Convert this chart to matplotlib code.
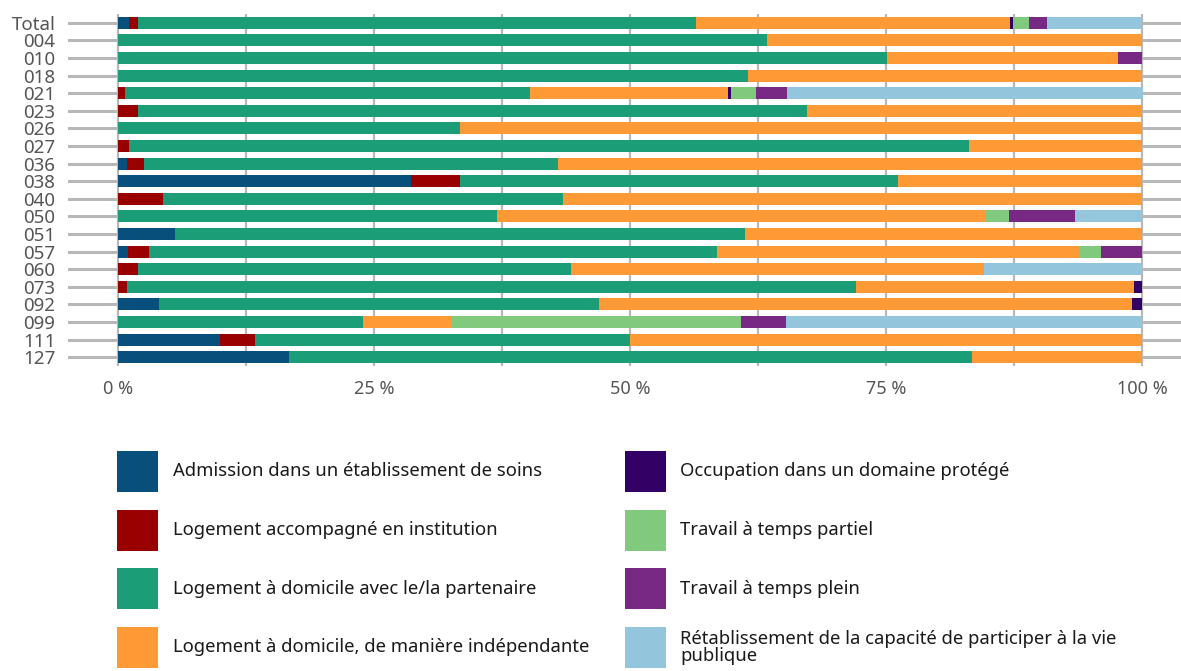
import matplotlib
matplotlib.use("Agg")
import matplotlib.pyplot as plt
from matplotlib.patches import Rectangle
import numpy as np

plt.rcParams['font.family'] = ['Noto Sans', 'DejaVu Sans']

categories = ["Total", "004", "010", "018", "021", "023", "026", "027", "036", "038",
              "040", "050", "051", "057", "060", "073", "092", "099", "111", "127"]

series_names = [
    "Admission dans un établissement de soins",
    "Logement accompagné en institution",
    "Logement à domicile avec le/la partenaire",
    "Logement à domicile, de manière indépendante",
    "Occupation dans un domaine protégé",
    "Travail à temps partiel",
    "Travail à temps plein",
    "Rétablissement de la capacité de participer à la vie\npublique",
]
colors = ["#094f7b", "#990000", "#1b9e77", "#fe9a36", "#330066", "#80c97d", "#772983", "#93c5dd"]

admission   = [1.1, 0, 0, 0, 0, 0, 0, 0, 0.9, 28.6, 0, 0, 5.6, 1.0, 0, 0, 4.0, 0, 10.0, 16.7]
institution = [0.9, 0, 0, 0, 0.65, 2.0, 0, 1.1, 1.6, 4.8, 4.4, 0, 0, 2.0, 1.95, 0.9, 0, 0, 3.4, 0]
partenaire  = [54.4, 63.4, 75.1, 61.5, 39.6, 65.3, 33.4, 82.0, 40.5, 42.8, 39.1, 37.0, 55.6, 55.5, 42.3, 71.2, 43.0, 23.9, 36.6, 66.7]
independant = [30.7, 36.6, 22.6, 38.5, 19.3, 32.7, 66.6, 16.9, 57.0, 23.8, 56.5, 47.8, 38.8, 35.4, 40.35, 27.1, 52.0, 8.7, 50.0, 16.6]
protege     = [0.3, 0, 0, 0, 0.3, 0, 0, 0, 0, 0, 0, 0, 0, 0, 0, 0.8, 1.0, 0, 0, 0]
partiel     = [1.55, 0, 0, 0, 2.5, 0, 0, 0, 0, 0, 0, 2.25, 0, 2.05, 0, 0, 0, 28.25, 0, 0]
plein       = [1.75, 0, 2.3, 0, 3.0, 0, 0, 0, 0, 0, 0, 6.45, 0, 4.05, 0, 0, 0, 4.4, 0, 0]
vie_publique = [9.3, 0, 0, 0, 34.75, 0, 0, 0, 0, 0, 0, 6.5, 0, 0, 15.4, 0, 0, 34.75, 0, 0]

series = [admission, institution, partenaire, independant, protege, partiel, plein, vie_publique]
xticks_major = [0, 25, 50, 75, 100]
xtick_labels = ["0 %", "25 %", "50 %", "75 %", "100 %"]

W, H = 1181, 671
fig = plt.figure(figsize=(W / 100, H / 100), dpi=100)
px0, px1 = 68, 1181
py0, py1 = 14, 366
ax = fig.add_axes([px0 / W, 1 - py1 / H, (px1 - px0) / W, (py1 - py0) / H])

scale = 10.24  # px per percent
ax.set_xlim(-(118 - px0) / scale, (px1 - 118) / scale)
n = len(categories)
ax.set_ylim(n - 0.5, -0.5)

y = np.arange(n)
grid_c = "#b8b8b8"
for v in np.arange(0, 100.01, 12.5):
    ax.axvline(v, color=grid_c, lw=1.6, zorder=0)
for yi in y:
    ax.axhline(yi, color=grid_c, lw=2.2, zorder=0)

left = np.zeros(n)
for vals, c in zip(series, colors):
    vals = np.asarray(vals, dtype=float)
    ax.barh(y, vals, left=left, height=0.68, color=c, linewidth=0, zorder=2)
    left += vals

ax.set_yticks(y)
ax.set_yticklabels(categories, fontsize=13.5, color="#555555")
ax.set_xticks(xticks_major)
ax.set_xticklabels(xtick_labels, fontsize=13, color="#555555")
ax.tick_params(axis="y", length=0, pad=9)
ax.tick_params(axis="x", length=0, pad=10)
for s in ax.spines.values():
    s.set_visible(False)

# Legend (manual, two columns)
col_x = [117, 625]
text_x = [173, 680]
row_top = [451, 509.5, 568, 627]
sq = 41
for i, (name, c) in enumerate(zip(series_names, colors)):
    col = i // 4
    row = i % 4
    x0 = col_x[col]
    y0 = row_top[row]
    fig.add_artist(Rectangle((x0 / W, 1 - (y0 + sq) / H), sq / W, sq / H,
                             transform=fig.transFigure, facecolor=c, edgecolor="none"))
    fig.text(text_x[col] / W, 1 - (y0 + sq / 2) / H, name, fontsize=13.3,
             color="#1a1a1a", va="center", ha="left", linespacing=0.95)

fig.savefig("out.png", dpi=100, facecolor="white")
